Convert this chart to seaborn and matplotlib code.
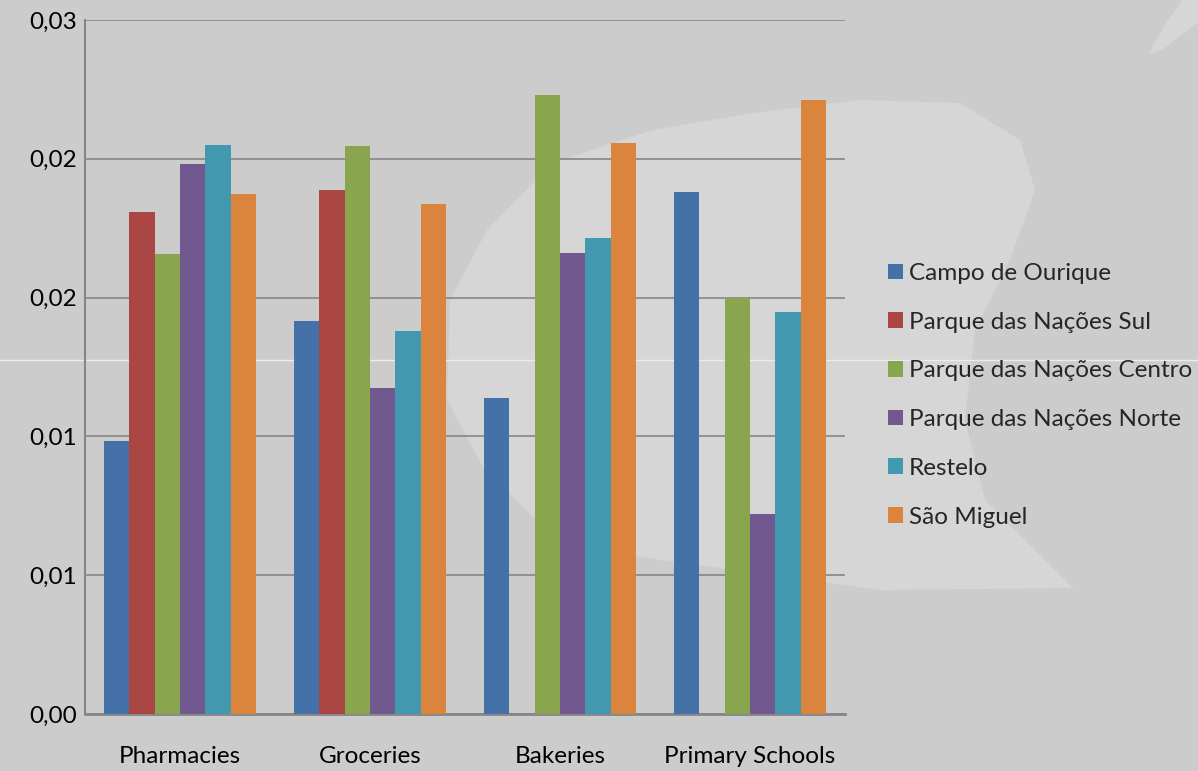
import numpy as np
import pandas as pd
import matplotlib
matplotlib.use("Agg")
import matplotlib.pyplot as plt
from matplotlib.patches import Polygon
from matplotlib.ticker import FuncFormatter, MultipleLocator
import seaborn as sns

# ── Données ─────────────────────────────────────────────
categories = ["Pharmacies", "Groceries", "Bakeries", "Primary Schools"]
zones = ["Campo de Ourique", "Parque das Nações Sul", "Parque das Nações Centro",
         "Parque das Nações Norte", "Restelo", "São Miguel"]

campo_ourique = [0.00983, 0.01416, 0.01138, 0.01880]
pn_sul        = [0.01808, 0.01888, np.nan, np.nan]
pn_centro     = [0.01657, 0.02046, 0.02230, 0.01499]
pn_norte      = [0.01981, 0.01174, 0.01660, 0.00720]
restelo       = [0.02050, 0.01380, 0.01715, 0.01448]
sao_miguel    = [0.01873, 0.01837, 0.02057, 0.02212]

couleurs = ["#4472a8", "#aa4644", "#89a54e", "#71588f", "#4198af", "#db843d"]

series = [campo_ourique, pn_sul, pn_centro, pn_norte, restelo, sao_miguel]
rows = []
for zone, vals in zip(zones, series):
    for cat, v in zip(categories, vals):
        rows.append({"categorie": cat, "zone": zone, "valeur": v})
df = pd.DataFrame(rows)

# ── Style ───────────────────────────────────────────────
sns.set_style("white")
plt.rcParams["font.family"] = ["Lato", "DejaVu Sans"]
FS = 17.5

W, H = 1198, 771
fig = plt.figure(figsize=(W / 100, H / 100), dpi=100, facecolor="#cccccc")


def px(pts):
    return [(x / W, 1 - y / H) for x, y in pts]


# fond décoratif (forme claire)
forme = [(447, 400), (450, 300), (487, 230), (553, 163), (653, 130), (753, 113),
         (860, 100), (960, 103), (1020, 140), (1035, 190), (1010, 260), (975, 330),
         (965, 420), (985, 500), (1073, 588), (880, 590), (640, 557), (533, 517),
         (483, 467)]
fig.patches.append(Polygon(px(forme), closed=True, transform=fig.transFigure,
                           facecolor="#d6d6d6", edgecolor="none", zorder=-2))
coin = [(1148, 55), (1165, 25), (1182, 0), (1198, 0), (1198, 22), (1165, 48)]
fig.patches.append(Polygon(px(coin), closed=True, transform=fig.transFigure,
                           facecolor="#d6d6d6", edgecolor="none", zorder=-2))
fig.add_artist(plt.Line2D([0, 1], [1 - 360 / H, 1 - 360 / H], transform=fig.transFigure,
                          color="#ececec", lw=1.0, zorder=-1))

ax = fig.add_axes([85 / W, 57 / H, 760 / W, 694 / H])
ax.set_zorder(5)
ax.set_facecolor("none")

sns.barplot(data=df, x="categorie", y="valeur", hue="zone", hue_order=zones,
            order=categories, palette=couleurs, saturation=1, width=0.8,
            linewidth=0, ax=ax, zorder=3)

ax.set_ylim(0, 0.025)
ax.yaxis.set_major_locator(MultipleLocator(0.005))
# arrondi "à l'Excel" (0,005 -> 0,01)
ax.yaxis.set_major_formatter(FuncFormatter(
    lambda v, p: f"{np.floor(v * 100 + 0.5 + 1e-9) / 100:.2f}".replace(".", ",")))
ax.grid(axis="y", color="#868686", lw=1.2, zorder=1)
ax.grid(axis="x", visible=False)
ax.set_axisbelow(True)
ax.set_xlabel("")
ax.set_ylabel("")

for s in ["top", "right"]:
    ax.spines[s].set_visible(False)
ax.spines["left"].set_color("#868686")
ax.spines["left"].set_linewidth(1.5)
ax.spines["bottom"].set_color("#868686")
ax.spines["bottom"].set_linewidth(2)

ax.tick_params(axis="y", length=0, pad=6, labelsize=FS, labelcolor="black")
ax.tick_params(axis="x", length=0, pad=23, labelsize=FS, labelcolor="black")

ax.legend(loc="upper left", bbox_to_anchor=(888 / W, 1 - 263 / H),
          bbox_transform=fig.transFigure, frameon=False, fontsize=FS,
          handlelength=0.62, handleheight=0.62, handletextpad=0.25,
          labelspacing=1.14, borderpad=0, borderaxespad=0)

fig.savefig("out.png", dpi=100, facecolor=fig.get_facecolor())
